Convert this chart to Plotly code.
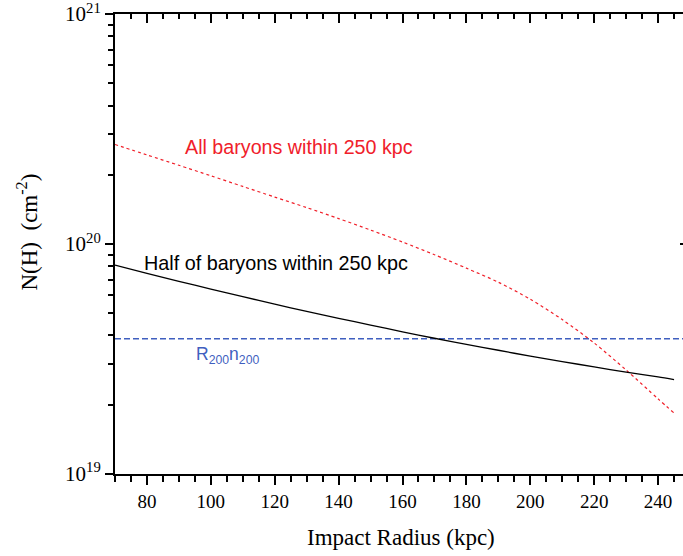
import plotly.graph_objects as go

# ---- data ----
radius = [70, 80, 90, 100, 110, 120, 130, 140, 150, 160, 170, 180, 190, 200, 210, 220, 230, 240, 245]
all_baryons = [2.71e20, 2.44e20, 2.20e20, 1.98e20, 1.78e20, 1.60e20, 1.44e20, 1.29e20, 1.15e20, 1.02e20,
               8.98e19, 7.85e19, 6.82e19, 5.75e19, 4.69e19, 3.71e19, 2.83e19, 2.12e19, 1.84e19]
half_baryons = [8.10e19, 7.46e19, 6.88e19, 6.37e19, 5.90e19, 5.48e19, 5.09e19, 4.75e19, 4.44e19, 4.15e19,
                3.89e19, 3.66e19, 3.45e19, 3.25e19, 3.08e19, 2.92e19, 2.77e19, 2.64e19, 2.57e19]
r200_x = [70, 250]
r200_n = [3.87e19, 3.87e19]

x_major = [80, 100, 120, 140, 160, 180, 200, 220, 240]
y_major = [1e19, 1e20, 1e21]
y_major_text = ["10<sup>19</sup>", "10<sup>20</sup>", "10<sup>21</sup>"]
y_minor = [2e19, 3e19, 4e19, 5e19, 6e19, 7e19, 8e19, 9e19,
           2e20, 3e20, 4e20, 5e20, 6e20, 7e20, 8e20, 9e20]

RED = "#f0202a"
BLUE = "#3f5fbf"
SERIF = "Liberation Serif, Times New Roman, serif"
SANS = "Liberation Sans, Arial, sans-serif"

fig = go.Figure()
fig.add_trace(go.Scatter(x=r200_x, y=r200_n, mode="lines",
                         line=dict(color=BLUE, width=1.5, dash="6px,3px"), showlegend=False))
fig.add_trace(go.Scatter(x=radius, y=all_baryons, mode="lines",
                         line=dict(color=RED, width=1.2, dash="3px,3px", shape="spline", smoothing=0.8),
                         showlegend=False))
fig.add_trace(go.Scatter(x=radius, y=half_baryons, mode="lines",
                         line=dict(color="black", width=1.3, shape="spline", smoothing=0.8),
                         showlegend=False))
# invisible trace to host the mirrored (top/right) axes
fig.add_trace(go.Scatter(x=[radius[0]], y=[half_baryons[0]], xaxis="x2", yaxis="y2",
                         mode="markers", marker=dict(opacity=0), showlegend=False, hoverinfo="skip"))

xr = [70, 247.8]
yr = [18.9995, 21.0005]

fig.update_layout(
    width=683, height=556,
    margin=dict(l=115, r=0, t=12, b=82),
    paper_bgcolor="white", plot_bgcolor="white",
    xaxis=dict(range=xr, showline=True, linecolor="black", linewidth=2, showgrid=False, zeroline=False,
               tickmode="array", tickvals=x_major, ticks="outside", ticklen=9, tickwidth=1.5, tickcolor="black",
               tickfont=dict(family=SERIF, size=19, color="black"), ticklabeloverflow="allow",
               minor=dict(dtick=5, tick0=70, ticks="outside", ticklen=6, tickwidth=1.5, tickcolor="black")),
    yaxis=dict(type="log", range=yr, showline=True, linecolor="black", linewidth=2, showgrid=False,
               zeroline=False, tickmode="array", tickvals=y_major, ticktext=y_major_text,
               ticks="outside", ticklen=8, tickwidth=1.5, tickcolor="black", ticklabeloverflow="allow",
               tickfont=dict(family=SERIF, size=21, color="black"),
               minor=dict(tickvals=y_minor, ticks="outside", ticklen=5, tickwidth=1.5, tickcolor="black")),
    xaxis2=dict(range=xr, overlaying="x", side="top", anchor="y2", showline=True, linecolor="black",
                linewidth=2, showgrid=False, zeroline=False, showticklabels=False,
                tickmode="array", tickvals=x_major, ticks="inside", ticklen=9, tickwidth=1.5, tickcolor="black",
                minor=dict(dtick=5, tick0=70, ticks="inside", ticklen=5, tickwidth=1.5, tickcolor="black")),
    yaxis2=dict(type="log", range=yr, overlaying="y", side="right", anchor="x2", showline=False,
                showgrid=False, zeroline=False, showticklabels=False, tickmode="array", tickvals=[1e20],
                ticks="inside", ticklen=3, tickwidth=1.5, tickcolor="black"),
    annotations=[
        dict(text="All baryons within 250 kpc", x=91.4, y=20.42, xref="x", yref="y",
             xanchor="left", yanchor="middle", showarrow=False,
             font=dict(family=SANS, size=19.7, color=RED)),
        dict(text="Half of baryons within 250 kpc", x=78.6, y=19.918, xref="x", yref="y",
             xanchor="left", yanchor="middle", showarrow=False,
             font=dict(family=SANS, size=19.8, color="black")),
        dict(text="R<sub>200</sub>n<sub>200</sub>", x=94.6, y=19.513, xref="x", yref="y",
             xanchor="left", yanchor="middle", showarrow=False,
             font=dict(family=SANS, size=17.5, color=BLUE)),
        dict(text="Impact Radius (kpc)", x=0.504, y=-0.1385, xref="paper", yref="paper",
             xanchor="center", yanchor="middle", showarrow=False,
             font=dict(family=SERIF, size=23, color="black")),
        dict(text="N(H)  (cm<sup>-2</sup>)", x=-0.154, y=0.526, xref="paper", yref="paper",
             xanchor="center", yanchor="middle", showarrow=False, textangle=-90,
             font=dict(family=SERIF, size=23, color="black")),
    ],
)

fig.write_html("out.html")
